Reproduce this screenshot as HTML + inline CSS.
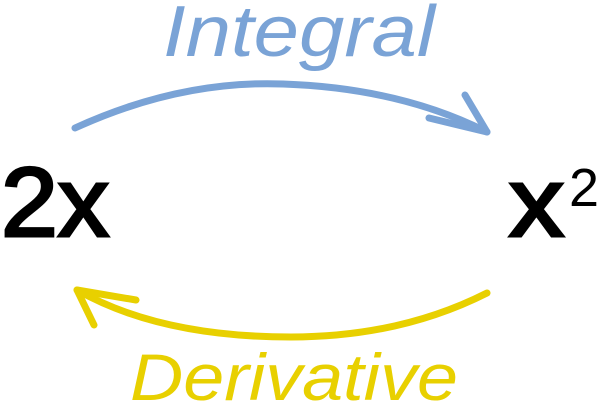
<!DOCTYPE html>
<html><head><style>
html,body{margin:0;padding:0;background:#fff;}
body{width:600px;height:408px;overflow:hidden;}
svg{display:block;}
</style></head><body>
<svg width="600" height="408" viewBox="0 0 600 408">
<text x="163" y="56" font-family="Liberation Sans, sans-serif" font-style="italic" font-size="72" fill="#7aa3d6" textLength="272" lengthAdjust="spacingAndGlyphs">Integral</text>
<path d="M75 128 Q 180 80 283 84 Q 400 88 487 132" fill="none" stroke="#7aa3d6" stroke-width="7" stroke-linecap="round"/>
<path d="M465 95 L487 132 L429 118" fill="none" stroke="#7aa3d6" stroke-width="7" stroke-linecap="round" stroke-linejoin="round"/>
<path d="M487 293 Q 400 337 291 337 Q 160 337 77 290" fill="none" stroke="#e8d000" stroke-width="7" stroke-linecap="round"/>
<path d="M136 300 L77 290 L94 325" fill="none" stroke="#e8d000" stroke-width="7" stroke-linecap="round" stroke-linejoin="round"/>
<text x="130" y="400" font-family="Liberation Sans, sans-serif" font-style="italic" font-size="66" fill="#e8d000" textLength="328" lengthAdjust="spacingAndGlyphs">Derivative</text>
<text x="1" y="236" font-family="Liberation Sans, sans-serif" font-size="98" fill="#000" stroke="#000" stroke-width="3" textLength="108" lengthAdjust="spacingAndGlyphs">2x</text>
<text x="509" y="236" font-family="Liberation Sans, sans-serif" font-size="98" fill="#000" stroke="#000" stroke-width="3" textLength="55" lengthAdjust="spacingAndGlyphs">x</text>
<text x="569" y="206" font-family="Liberation Sans, sans-serif" font-size="54" fill="#000" textLength="30" lengthAdjust="spacingAndGlyphs">2</text>
</svg>
</body></html>
